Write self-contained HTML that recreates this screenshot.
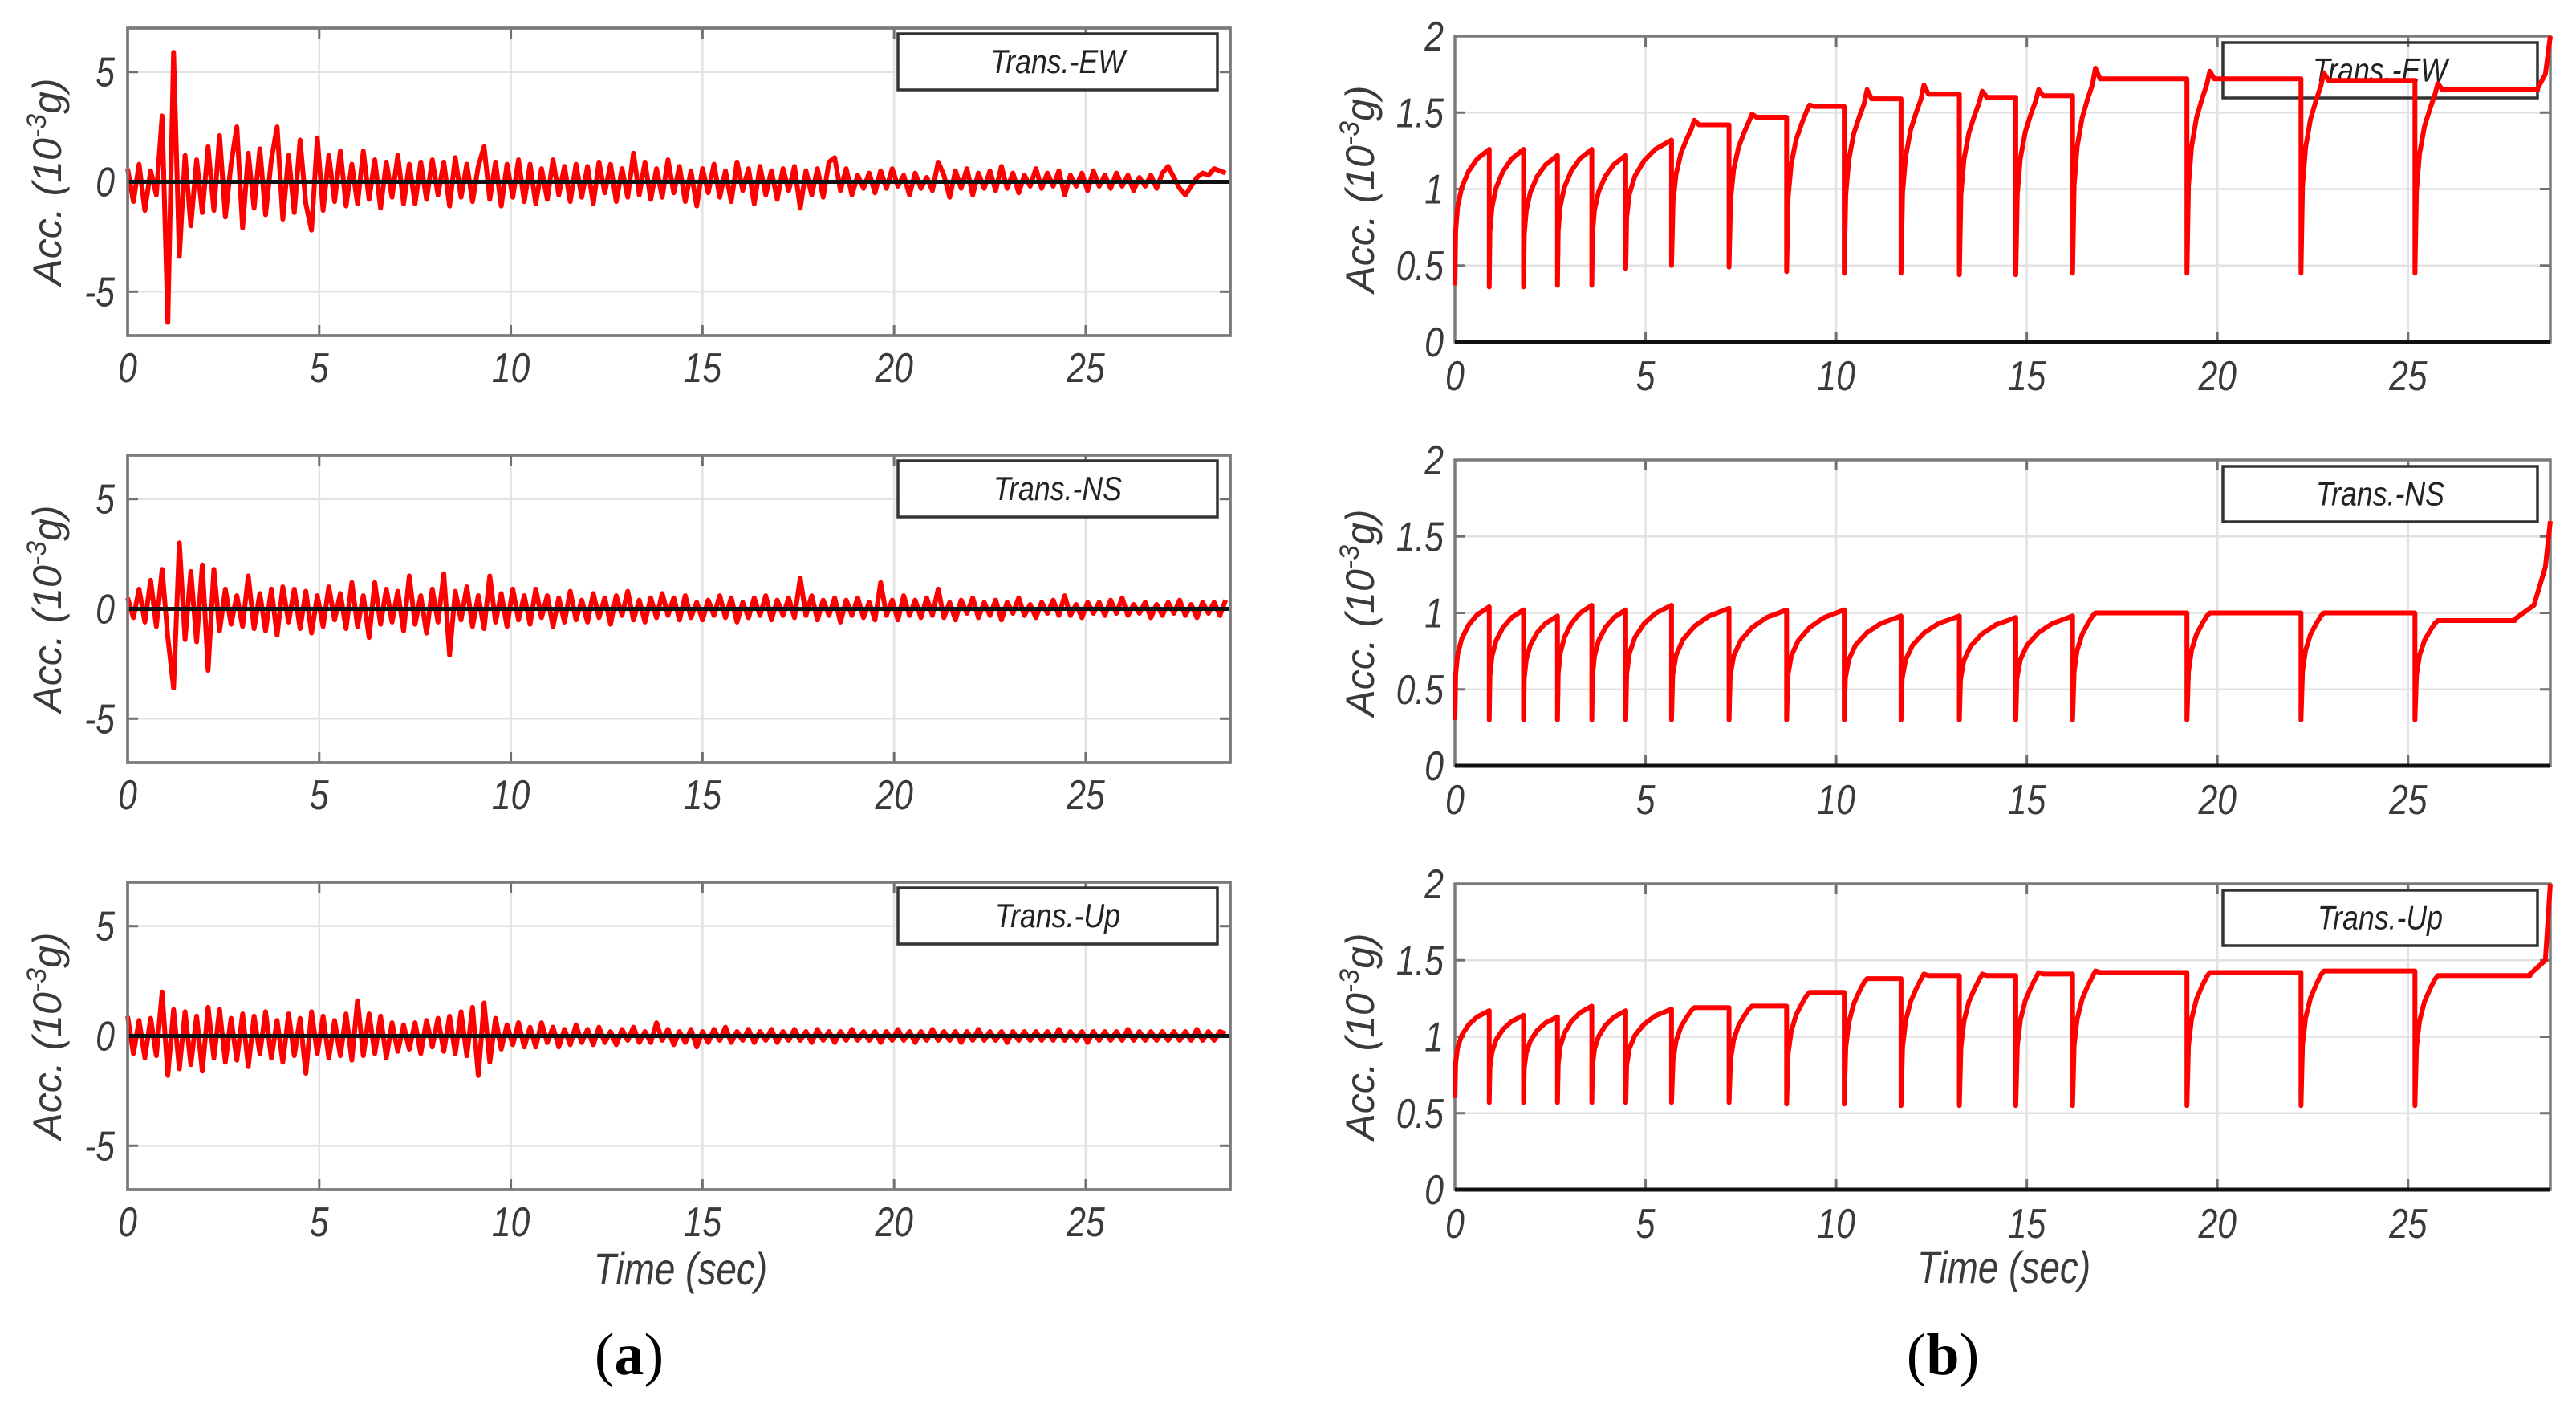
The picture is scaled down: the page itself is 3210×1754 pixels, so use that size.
<!DOCTYPE html>
<html>
<head>
<meta charset="utf-8">
<style>
html,body{margin:0;padding:0;background:#fff;}
svg{display:block;}
text{font-family:"Liberation Sans",sans-serif;}
</style>
</head>
<body>
<svg id="fig" width="3210" height="1754" viewBox="0 0 3210 1754" xmlns="http://www.w3.org/2000/svg"></svg>
<script>
// ---------- data: panel (a) time histories, sampled every 0.15 s ----------
const dtA = 0.15;
const accEW = [0.6,-0.9,0.8,-1.3,0.5,-0.6,3.0,-6.4,5.9,-3.4,
1.2,-2.0,1.0,-1.4,1.6,-1.3,2.1,-1.6,0.8,2.5,
-2.1,1.3,-1.2,1.5,-1.5,1.0,2.5,-1.7,1.2,-1.4,
1.9,-1.0,-2.2,2.0,-1.3,1.2,-0.9,1.4,-1.1,0.8,
-1.0,1.4,-0.8,1.0,-1.2,0.9,-0.7,1.2,-1.0,0.8,
-1.0,0.9,-0.8,1.0,-0.6,0.9,-1.1,1.1,-0.7,0.8,
-0.9,0.7,1.6,-0.8,0.9,-1.1,0.8,-0.7,1.0,-0.9,
0.8,-1.0,0.6,-0.8,1.0,-0.6,0.7,-0.9,0.8,-0.7,
0.7,-1.0,0.9,-0.5,0.8,-0.9,0.6,-0.7,1.3,-0.6,
0.9,-0.8,0.6,-0.7,1.0,-0.5,0.7,-0.9,0.5,-1.1,
0.6,-0.5,0.8,-0.7,0.5,-0.9,0.9,-0.4,0.6,-1.0,
0.7,-0.6,0.5,-0.8,0.6,-0.4,0.7,-1.2,0.5,-0.6,
0.6,-0.7,0.9,1.1,-0.4,0.6,-0.6,0.3,-0.3,0.4,
-0.5,0.5,-0.3,0.6,-0.2,0.3,-0.6,0.4,-0.3,0.2,
-0.4,0.9,0.3,-0.7,0.5,-0.3,0.6,-0.6,0.4,-0.3,
0.5,-0.4,0.7,-0.3,0.4,-0.5,0.3,-0.2,0.6,-0.3,
0.4,-0.2,0.5,-0.6,0.3,-0.2,0.4,-0.4,0.5,-0.2,
0.3,-0.3,0.4,-0.2,0.3,-0.4,0.2,-0.2,0.3,-0.3,
0.4,0.7,0.2,-0.3,-0.6,-0.2,0.2,0.4,0.3,0.6,0.5,0.4];
const accNS = [0.5,-0.4,0.9,-0.6,1.3,-0.8,1.8,-1.3,-3.6,3.0,
-1.4,1.7,-1.5,2.0,-2.8,1.8,-1.0,0.9,-0.7,0.6,
-0.8,1.5,-0.9,0.7,-1.0,0.9,-1.2,1.0,-0.6,0.9,
-0.9,0.8,-1.1,0.6,-0.8,1.0,-0.5,0.7,-0.9,1.2,
-0.8,0.6,-1.3,1.2,-0.7,0.9,-0.6,0.8,-1.0,1.5,
-0.7,0.6,-1.1,0.9,-0.6,1.6,-2.1,0.8,-0.5,1.0,
-0.8,0.6,-0.9,1.5,-0.6,0.7,-0.8,0.9,-0.5,0.6,
-0.7,0.9,-0.4,0.6,-0.8,0.5,-0.6,0.8,-0.5,0.4,
-0.6,0.7,-0.4,0.5,-0.7,0.6,-0.3,0.8,-0.5,0.4,
-0.6,0.5,-0.4,0.7,-0.3,0.5,-0.5,0.6,-0.4,0.3,
-0.5,0.4,-0.3,0.6,-0.4,0.5,-0.6,0.3,-0.4,0.5,
-0.3,0.6,-0.5,0.4,-0.3,0.5,-0.4,1.4,-0.3,0.6,
-0.5,0.4,-0.3,0.5,-0.6,0.4,-0.3,0.5,-0.4,0.3,
-0.5,1.2,-0.3,0.4,-0.5,0.6,-0.3,0.4,-0.4,0.5,
-0.3,0.9,-0.4,0.3,-0.5,0.4,-0.2,0.5,-0.4,0.3,
-0.3,0.4,-0.5,0.3,-0.2,0.5,-0.3,0.2,-0.4,0.3,
-0.2,0.4,-0.3,0.6,-0.3,0.2,-0.4,0.3,-0.2,0.3,
-0.3,0.4,-0.2,0.5,-0.3,0.2,-0.2,0.3,-0.4,0.2,
-0.3,0.3,-0.2,0.4,-0.3,0.2,-0.4,0.3,-0.2,0.3,-0.3,0.4];
const accUp = [0.9,-0.8,0.7,-1.0,0.8,-0.9,2.0,-1.8,1.2,-1.5,
1.1,-1.3,0.9,-1.6,1.3,-1.0,1.2,-1.2,0.8,-1.1,
1.0,-1.4,0.9,-0.8,1.1,-1.0,0.7,-1.2,1.0,-0.9,
0.8,-1.7,1.1,-0.8,0.9,-1.0,0.7,-0.9,1.0,-1.1,
1.6,-0.9,1.0,-0.8,0.9,-1.0,0.6,-0.7,0.5,-0.6,
0.6,-0.8,0.7,-0.5,0.8,-0.7,0.9,-0.8,1.1,-0.9,
1.3,-1.8,1.5,-1.2,0.8,-0.6,0.5,-0.4,0.6,-0.5,
0.4,-0.5,0.6,-0.3,0.4,-0.5,0.3,-0.4,0.5,-0.3,
0.3,-0.4,0.4,-0.3,0.2,-0.4,0.3,-0.2,0.4,-0.3,
0.2,-0.3,0.6,-0.2,0.3,-0.4,0.2,-0.3,0.3,-0.5,
0.2,-0.3,0.3,-0.2,0.4,-0.3,0.2,-0.2,0.3,-0.3,
0.2,-0.2,0.3,-0.3,0.2,-0.2,0.3,-0.2,0.2,-0.3,
0.3,-0.2,0.2,-0.3,0.2,-0.2,0.3,-0.2,0.2,-0.2,
0.2,-0.3,0.2,-0.2,0.3,-0.2,0.2,-0.3,0.2,-0.2,
0.3,-0.2,0.2,-0.2,0.2,-0.3,0.2,-0.2,0.3,-0.2,
0.2,-0.2,0.2,-0.3,0.2,-0.2,0.2,-0.2,0.2,-0.2,
0.2,-0.2,0.3,-0.2,0.2,-0.2,0.2,-0.3,0.2,-0.2,
0.2,-0.2,0.2,-0.2,0.3,-0.2,0.2,-0.2,0.2,-0.2,
0.2,-0.2,0.2,-0.2,0.2,-0.2,0.3,-0.2,0.2,-0.2,0.2,0.1];

// ---------- data: panel (b) segments ----------
const segStart = [0,0.9,1.8,2.69,3.59,4.48,5.68,7.19,8.7,10.21,11.7,13.23,14.71,16.2,19.2,22.19,25.18];
const lowEW  = [0.37,0.36,0.36,0.37,0.37,0.48,0.5,0.49,0.46,0.45,0.45,0.44,0.44,0.45,0.45,0.45,0.45];
const peakEW = [1.26,1.26,1.22,1.26,1.22,1.32,1.42,1.47,1.54,1.59,1.62,1.6,1.61,1.72,1.72,1.71,1.65];
const overEW = [0,0,0,0,0,0,0.03,0.02,0.01,0.06,0.06,0.04,0.04,0.07,0.05,0.05,0.04];
const tailEW = [[28.4,1.66],[28.6,1.75],[28.73,2.0]];
const lowNS  = [0.3,0.3,0.3,0.3,0.3,0.3,0.3,0.3,0.3,0.3,0.3,0.3,0.3,0.3,0.3,0.3,0.3];
const peakNS = [1.04,1.02,0.98,1.05,1.02,1.05,1.03,1.02,1.02,0.98,0.98,0.97,0.98,1.0,1.0,1.0,0.95];
const overNS = [0,0,0,0,0,0,0,0,0,0,0,0,0,0,0,0,0];
const tailNS = [[27.8,0.96],[28.3,1.05],[28.6,1.3],[28.73,1.6]];
const lowUp  = [0.6,0.57,0.57,0.57,0.57,0.57,0.57,0.57,0.56,0.56,0.55,0.55,0.55,0.55,0.55,0.55,0.55];
const peakUp = [1.17,1.14,1.13,1.2,1.17,1.18,1.19,1.2,1.29,1.38,1.4,1.4,1.41,1.42,1.42,1.43,1.4];
const overUp = [0,0,0,0,0,0,0,0,0,0,0.01,0.01,0.01,0.01,0,0,0];
const tailUp = [[28.2,1.41],[28.6,1.5],[28.73,2.0]];

const xTicks = [0,5,10,15,20,25];
const yTicksA = [-5,0,5];
const yTicksB = [0,0.5,1,1.5,2];
const namesA = ["Trans.-EW","Trans.-NS","Trans.-Up"];

// ---------- drawing ----------
const NS = "http://www.w3.org/2000/svg";
const svg = document.getElementById('fig');
function mk(tag, attrs, parent){
  const e = document.createElementNS(NS, tag);
  for (const k in attrs) e.setAttribute(k, attrs[k]);
  (parent||svg).appendChild(e);
  return e;
}
function makeAxes(cfg, key){
  const g = mk('g', {});
  
  
  const sx = v => cfg.x0 + (v - 0) / cfg.xmax * (cfg.x1 - cfg.x0);
  const sy = v => cfg.y1 - (v - cfg.ymin) / (cfg.ymax - cfg.ymin) * (cfg.y1 - cfg.y0);
  mk('rect', {x:cfg.x0, y:cfg.y0, width:cfg.x1-cfg.x0, height:cfg.y1-cfg.y0, fill:'#fff'}, g);
  xTicks.forEach(t => {
    const gl = mk('line', {x1:sx(t), x2:sx(t), y1:cfg.y0, y2:cfg.y1, stroke:'#e2e2e2', 'stroke-width':2.5}, g);
    
    
    mk('line', {x1:sx(t), x2:sx(t), y1:cfg.y1, y2:cfg.y1-13, stroke:'#707070', 'stroke-width':3}, g);
    mk('line', {x1:sx(t), x2:sx(t), y1:cfg.y0, y2:cfg.y0+13, stroke:'#707070', 'stroke-width':3}, g);
    const tl = mk('text', {transform:`translate(${sx(t)},${cfg.y1+cfg.xlabOff}) scale(0.82,1)`, 'text-anchor':'middle', 'font-size':52, 'font-style':'italic', fill:'#3a3a3a'}, g);
    tl.textContent = String(t);
    
    
  });
  cfg.yTicks.forEach(v => {
    const gl = mk('line', {x1:cfg.x0, x2:cfg.x1, y1:sy(v), y2:sy(v), stroke:'#e2e2e2', 'stroke-width':2.5}, g);
    
    
    mk('line', {x1:cfg.x0, x2:cfg.x0+13, y1:sy(v), y2:sy(v), stroke:'#707070', 'stroke-width':3}, g);
    mk('line', {x1:cfg.x1, x2:cfg.x1-13, y1:sy(v), y2:sy(v), stroke:'#707070', 'stroke-width':3}, g);
    const tl = mk('text', {transform:`translate(${cfg.x0-cfg.ylabGap},${sy(v)+18}) scale(0.82,1)`, 'text-anchor':'end', 'font-size':52, 'font-style':'italic', fill:'#3a3a3a'}, g);
    tl.textContent = String(v);
    
    
  });
  mk('rect', {x:cfg.x0, y:cfg.y0, width:cfg.x1-cfg.x0, height:cfg.y1-cfg.y0, fill:'none', stroke:'#7a7a7a', 'stroke-width':3.5}, g);
  const yl = mk('text', {transform:`translate(${cfg.ylabX},${(cfg.y0+cfg.y1)/2}) rotate(-90)`, 'text-anchor':'middle', 'font-size':50, 'font-style':'italic', fill:'#3a3a3a'}, g);
  
  
  yl.appendChild(document.createTextNode('Acc. (10'));
  const sup = mk('tspan', {'baseline-shift':'super', 'font-size':34}, yl);
  sup.textContent = '-3';
  const rest = mk('tspan', {}, yl);
  rest.textContent = 'g)';
  return {g, sx, sy};
}
function legend(g, x0, y0, x1, y1, label){
  const lg = mk('g', {}, g);
  
  
  mk('rect', {x:x0, y:y0, width:x1-x0, height:y1-y0, fill:'#fff', stroke:'#333', 'stroke-width':3.5}, lg);
  const t = mk('text', {transform:`translate(${(x0+x1)/2},${(y0+y1)/2+14}) scale(0.85,1)`, 'text-anchor':'middle', 'font-size':42, 'font-style':'italic', fill:'#222'}, lg);
  t.textContent = label;
  
  
  return lg;
}

const leftTops = [35,567,1099], rightTops = [45,573,1101];
const seriesA = [accEW, accNS, accUp];
const seriesB = [[lowEW,peakEW,overEW,tailEW,1.2],[lowNS,peakNS,overNS,tailNS,2.0],[lowUp,peakUp,overUp,tailUp,1.2]];
const shortU = [0,0.02,0.08,0.2,0.4,0.65,0.9,1.0];
const shortF = [0,0.4,0.58,0.72,0.84,0.93,0.98,1.0];

for (let p = 0; p < 3; p++){
  const cA = {x0:159, x1:1533, xmax:28.77, y0:leftTops[p], y1:leftTops[p]+383, ymin:-7, ymax:7, yTicks:yTicksA, xlabOff:58, ylabGap:16, ylabX:76};
  const A = makeAxes(cA, 'a-' + (p+1));
  const vals = seriesA[p];
  let d = '';
  vals.forEach((v,i) => { d += (i?'L':'M') + A.sx(i*dtA).toFixed(1) + ',' + A.sy(v).toFixed(1); });
  const line = mk('path', {d, fill:'none', stroke:'#ff0000', 'stroke-width':6, 'stroke-linejoin':'round'}, A.g);
  
  
  const zl = mk('line', {x1:cA.x0, x2:cA.x1, y1:A.sy(0), y2:A.sy(0), stroke:'#111', 'stroke-width':5}, A.g);
  
  
  mk('rect', {x:cA.x0, y:cA.y0, width:cA.x1-cA.x0, height:cA.y1-cA.y0, fill:'none', stroke:'#7a7a7a', 'stroke-width':3.5}, A.g);
  legend(A.g, 1119, cA.y0+7, 1517, cA.y0+77, namesA[p]);

  const cB = {x0:1813, x1:3178, xmax:28.73, y0:rightTops[p], y1:rightTops[p]+381, ymin:0, ymax:2, yTicks:yTicksB, xlabOff:60, ylabGap:14, ylabX:1712};
  const B = makeAxes(cB, 'b-' + (p+1));
  const [lows, peaks, overs, tail, thr] = seriesB[p];
  let pts = [];
  for (let i = 0; i < segStart.length; i++){
    const t0 = segStart[i];
    const t1 = (i+1 < segStart.length) ? segStart[i+1] : tail[0][0];
    const dur = t1 - t0, L = lows[i], P = peaks[i], O = overs[i];
    if (dur < thr){
      shortU.forEach((u,k) => pts.push([t0 + u*dur, L + shortF[k]*(P-L)]));
    } else {
      const offs = [0,0.04,0.12,0.25,0.4,0.52];
      const fr = [0,0.45,0.65,0.8,0.9,0.97];
      offs.forEach((s,k) => pts.push([t0+s, L + fr[k]*(P-L)]));
      pts.push([t0+0.6, P+O]);
      pts.push([t0+0.72, P]);
      pts.push([t1, P]);
    }
  }
  tail.forEach(q => pts.push(q));
  let d2 = '';
  pts.forEach((q,i) => { d2 += (i?'L':'M') + B.sx(q[0]).toFixed(1) + ',' + B.sy(q[1]).toFixed(1); });
  const line2 = mk('path', {d:d2, fill:'none', stroke:'#ff0000', 'stroke-width':6, 'stroke-linejoin':'round'}, B.g);
  
  
  const bl = mk('line', {x1:cB.x0, x2:cB.x1, y1:B.sy(0), y2:B.sy(0), stroke:'#111', 'stroke-width':5}, B.g);
  
  
  const lgB = legend(B.g, 2770, cB.y0+8, 3162, cB.y0+77, namesA[p]);
  if (p === 0){ lgB.querySelector('rect').setAttribute('fill', 'none'); B.g.appendChild(line2); }
}

const xtA = mk('text', {transform:'translate(848,1600) scale(0.82,1)', 'text-anchor':'middle', 'font-size':56, 'font-style':'italic', fill:'#3a3a3a'});
xtA.textContent = 'Time (sec)';


const xtB = mk('text', {transform:'translate(2497,1598) scale(0.82,1)', 'text-anchor':'middle', 'font-size':56, 'font-style':'italic', fill:'#3a3a3a'});
xtB.textContent = 'Time (sec)';


function caption(x, letter, key){
  const c = mk('text', {x, y:1712, 'text-anchor':'middle', 'font-size':74, fill:'#000', style:'font-family:"Liberation Serif",serif'});
  
  
  c.appendChild(document.createTextNode('('));
  const b = mk('tspan', {'font-weight':'bold'}, c);
  b.textContent = letter;
  c.appendChild(document.createTextNode(')'));
}
caption(784, 'a', 'caption-a');
caption(2421, 'b', 'caption-b');
</script>
</body>
</html>
